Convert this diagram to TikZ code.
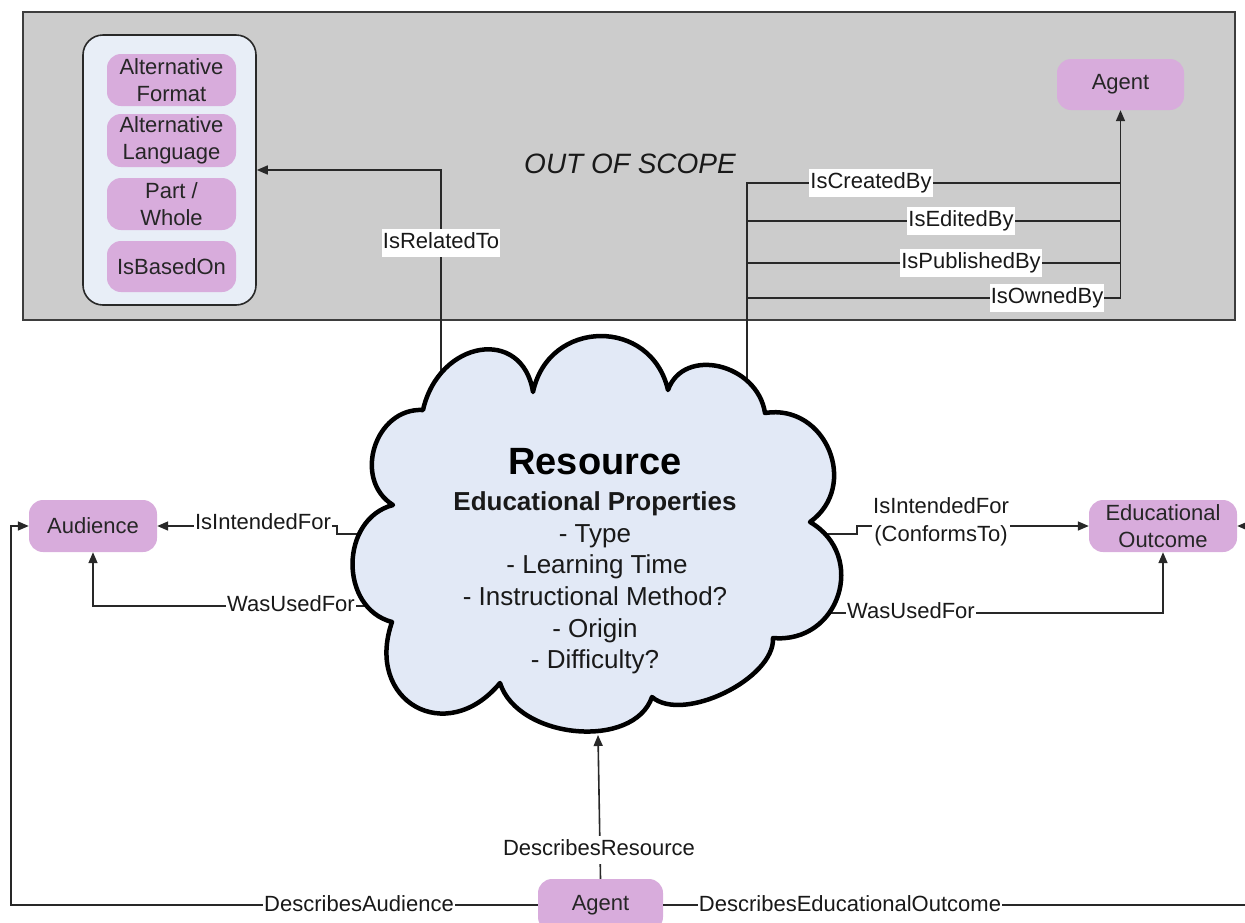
\documentclass[tikz,border=0pt]{standalone}
\usepackage{fontspec}
\setmainfont{Liberation Sans}
\usetikzlibrary{arrows.meta}
\definecolor{purp}{RGB}{216,172,220}
\definecolor{grayfill}{RGB}{204,204,204}
\definecolor{grpfill}{RGB}{232,238,247}
\definecolor{cloudfill}{RGB}{226,233,246}
\definecolor{ln}{RGB}{40,40,40}
\definecolor{txt}{RGB}{25,25,25}
\begin{document}
\begin{tikzpicture}[x=1pt,y=-1pt,
  conn/.style={draw=ln, line width=1.6pt},
  arr/.style={conn, -{Triangle[length=11pt,width=9pt]}},
  lbl/.style={fill=white, text=txt, font=\fontsize{22}{28}\selectfont, inner xsep=1pt, inner ysep=3.5pt, text height=16pt, text depth=4.5pt},
  lbltwo/.style={fill=white, text=txt, font=\fontsize{22}{28}\selectfont, inner sep=1pt, align=center},
  pbox/.style={fill=purp, rounded corners=14pt, font=\fontsize{22}{27}\selectfont, align=center, inner sep=0pt, text=black!85},
  cloudsty/.style={draw=black, fill=cloudfill, line width=4.5pt, line join=round},
]
\useasboundingbox (0,0) rectangle (1245,922);
\clip (0,0) rectangle (1245,922);

% out-of-scope area
\node[draw=ln!90, fill=grayfill, line width=1.6pt, minimum width=1212pt, minimum height=308pt, inner sep=0pt] (oos) at (629,166) {};
\node[font=\fontsize{28}{32}\selectfont\itshape, text=txt] (oost) at (630,164) {OUT OF SCOPE};

% related group
\node[draw=ln, fill=grpfill, rounded corners=20pt, line width=1.6pt, minimum width=173pt, minimum height=270pt, inner sep=0pt] (grp) at (169.5,170) {};
\node[pbox, minimum width=129pt, minimum height=52pt] (altf) at (171.5,80) {Alternative\\Format};
\node[pbox, minimum width=129pt, minimum height=53pt] (altl) at (171.5,140.5) {Alternative\\Language};
\node[pbox, minimum width=129pt, minimum height=52pt] (pw) at (171.5,204) {Part /\\Whole};
\node[pbox, minimum width=129pt, minimum height=51pt] (ibo) at (171.5,266.5) {IsBasedOn};

% entity boxes
\node[pbox, minimum width=127pt, minimum height=51pt] (agT) at (1120.5,84.5) {Agent};
\node[pbox, minimum width=128pt, minimum height=52pt] (aud) at (93,526) {Audience};
\node[pbox, minimum width=148pt, minimum height=52pt] (eo) at (1163,526) {Educational\\Outcome};
\node[pbox, minimum width=125pt, minimum height=52pt] (agB) at (600.5,905) {Agent};

% attachment points on the cloud
\coordinate (cRel) at (441,400);
\coordinate (cAg) at (747,420);
\coordinate (cIL) at (372,534);
\coordinate (cWL) at (380,606);
\coordinate (cIR) at (820,534);
\coordinate (cWR) at (820,613);
\coordinate (cBot) at (598,735);

% IsRelatedTo
\draw[arr] (cRel) |- (grp.east);
\node[lbl] (lRel) at (441,243) {IsRelatedTo};

% agent relations
\coordinate (b1) at (747,183); \coordinate (t1) at (1120.5,183);
\coordinate (b2) at (747,221); \coordinate (t2) at (1120.5,221);
\coordinate (b3) at (747,263); \coordinate (t3) at (1120.5,263);
\coordinate (b4) at (747,298); \coordinate (t4) at (1120.5,298);
\draw[conn] (cAg) -- (b1) -- (t1);
\draw[conn] (b2) -- (t2);
\draw[conn] (b3) -- (t3);
\draw[conn] (b4) -- (t4);
\draw[arr] (t4) -- (agT.south);
\node[lbl] (lCre) at (871,183) {IsCreatedBy};
\node[lbl] (lEdi) at (961,221) {IsEditedBy};
\node[lbl] (lPub) at (971,263) {IsPublishedBy};
\node[lbl] (lOwn) at (1047,298) {IsOwnedBy};

% audience relations
\draw[arr] (cIL) -- (337,534) -- (337,526) -- (aud.east);
\node[lbl] (lIL) at (263,524) {IsIntendedFor};
\draw[arr] (cWL) -| (aud.south);
\node[lbl] (lWL) at (291,606) {WasUsedFor};

% outcome relations
\draw[arr] (cIR) -- (857,534) -- (857,526) -- (eo.west);
\node[lbltwo] (lIR) at (941,522) {IsIntendedFor\\(ConformsTo)};
\draw[arr] (cWR) -| (eo.south);
\node[lbl] (lWR) at (911,613) {WasUsedFor};

% bottom agent relations
\draw[arr] (agB.west) -- (11,905) |- (aud.west);
\node[lbl] (lDA) at (359,906) {DescribesAudience};
\draw[arr] (agB.east) -- (1262,905) |- (eo.east);
\node[lbl] (lDE) at (850,906) {DescribesEducationalOutcome};

% the cloud
\path[cloudsty] (393,505)
 .. controls (352.1,479.6) and (374.9,407.4) .. (423,410)
 .. controls (438.9,339.8) and (522.5,326.2) .. (533,392)
 .. controls (548.5,318.5) and (651.1,316.9) .. (668,390)
 .. controls (683.6,346.1) and (757.4,363.5) .. (765,413)
 .. controls (825.9,403.2) and (860.1,486) .. (810,522)
 .. controls (867.8,555.8) and (839.6,644) .. (773,638)
 .. controls (774.9,678.7) and (682.9,723.5) .. (652,697)
 .. controls (633.8,750) and (518.2,739.4) .. (500,683)
 .. controls (446.3,747.7) and (364.3,701.3) .. (392,622)
 .. controls (338.8,608) and (339.6,519) .. (393,505) -- cycle;

\node[font=\fontsize{38}{40}\selectfont\bfseries, anchor=base] (res) at (595,474) {Resource};
\node[font=\fontsize{26}{30}\selectfont\bfseries, anchor=base, text=txt] (resp) at (595,510) {Educational Properties};
\node[font=\fontsize{26}{30}\selectfont, anchor=base, text=txt] (p1) at (595,542) {- Type};
\node[font=\fontsize{26}{30}\selectfont, anchor=base, text=txt] (p2) at (597,573) {- Learning Time};
\node[font=\fontsize{26}{30}\selectfont, anchor=base, text=txt] (p3) at (595,605) {- Instructional Method?};
\node[font=\fontsize{26}{30}\selectfont, anchor=base, text=txt] (p4) at (595,637) {- Origin};
\node[font=\fontsize{26}{30}\selectfont, anchor=base, text=txt] (p5) at (595,668) {- Difficulty?};

% describes resource
\draw[arr] (agB.north) -- (cBot);
\node[lbl] (lDR) at (599,850) {DescribesResource};
\end{tikzpicture}
\end{document}
